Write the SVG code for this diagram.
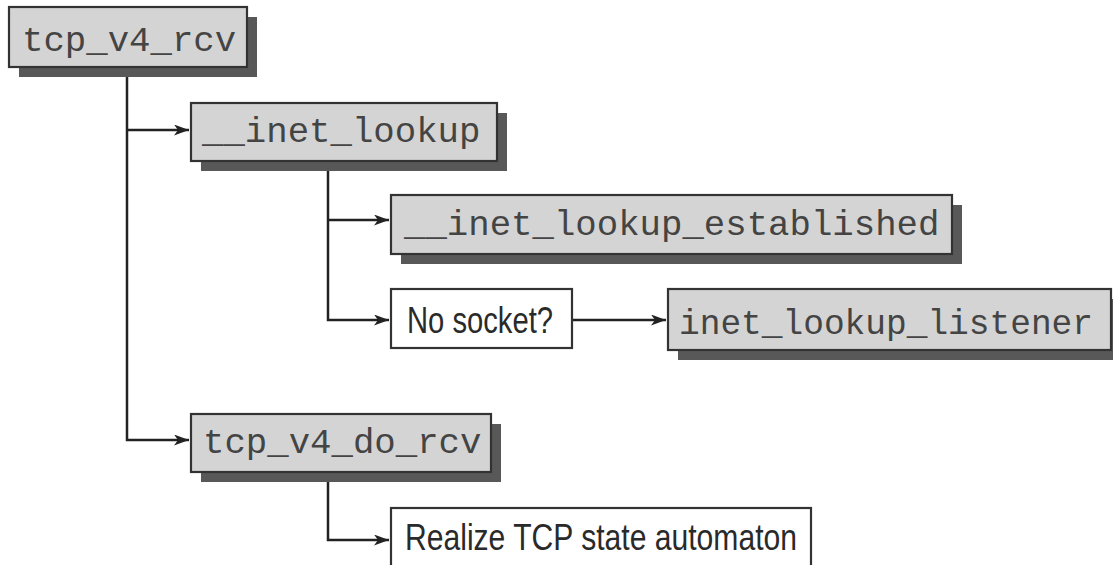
<svg xmlns="http://www.w3.org/2000/svg" width="1113" height="565" viewBox="0 0 1113 565">
<style>
.shadow{fill:#585858}
.gbox{fill:#d4d4d4;stroke:#333;stroke-width:2.2}
.wbox{fill:#fff;stroke:#333;stroke-width:2.2}
.mono{font-family:"Liberation Mono","Courier New",monospace;font-size:35.7px;fill:#444}
.sans{font-family:"Liberation Sans Narrow","Liberation Sans",Arial,sans-serif;font-size:36px;fill:#2a2a2a}
.conn{fill:none;stroke:#222;stroke-width:2.5}
</style>
<defs>
<marker id="arr" markerUnits="userSpaceOnUse" markerWidth="16" markerHeight="12" refX="15" refY="5.5" orient="auto">
<path d="M0,0 L15,5.5 L0,11 L4,5.5 Z" fill="#222"/>
</marker>
</defs>
<rect width="1113" height="565" fill="#fff"/>
<g id="connectors">
<path class="conn" d="M127,67 V440 H189" marker-end="url(#arr)"/>
<path class="conn" d="M127,130 H189" marker-end="url(#arr)"/>
<path class="conn" d="M328,161 V320 H389" marker-end="url(#arr)"/>
<path class="conn" d="M328,220 H389" marker-end="url(#arr)"/>
<path class="conn" d="M572,320 H666" marker-end="url(#arr)"/>
<path class="conn" d="M328,472 V540 H389" marker-end="url(#arr)"/>
</g>
<g id="tcp_v4_rcv">
<rect class="shadow" x="19" y="17" width="238" height="60"/>
<rect class="gbox" x="9" y="7" width="238" height="60"/>
<text class="mono" x="22" y="51">tcp_v4_rcv</text>
</g>
<g id="inet_lookup">
<rect class="shadow" x="201" y="113" width="306" height="58"/>
<rect class="gbox" x="191" y="103" width="306" height="58"/>
<text class="mono" x="202" y="142">__inet_lookup</text>
</g>
<g id="inet_lookup_established">
<rect class="shadow" x="401" y="205" width="561" height="59"/>
<rect class="gbox" x="391" y="195" width="561" height="59"/>
<text class="mono" x="404" y="235">__inet_lookup_established</text>
</g>
<g id="no_socket">
<rect class="wbox" x="391" y="289" width="181" height="59"/>
<text class="sans" x="407" y="333" textLength="146" lengthAdjust="spacingAndGlyphs">No socket?</text>
</g>
<g id="inet_lookup_listener">
<rect class="shadow" x="678" y="299" width="445" height="61"/>
<rect class="gbox" x="668" y="289" width="443" height="61"/>
<text class="mono" x="679" y="334" textLength="414" lengthAdjust="spacingAndGlyphs">inet_lookup_listener</text>
</g>
<g id="tcp_v4_do_rcv">
<rect class="shadow" x="201" y="424" width="300" height="58"/>
<rect class="gbox" x="191" y="414" width="300" height="58"/>
<text class="mono" x="203" y="453">tcp_v4_do_rcv</text>
</g>
<g id="realize">
<rect class="wbox" x="391" y="508" width="420" height="70"/>
<text class="sans" x="405" y="550" textLength="392" lengthAdjust="spacingAndGlyphs">Realize TCP state automaton</text>
</g>
</svg>
